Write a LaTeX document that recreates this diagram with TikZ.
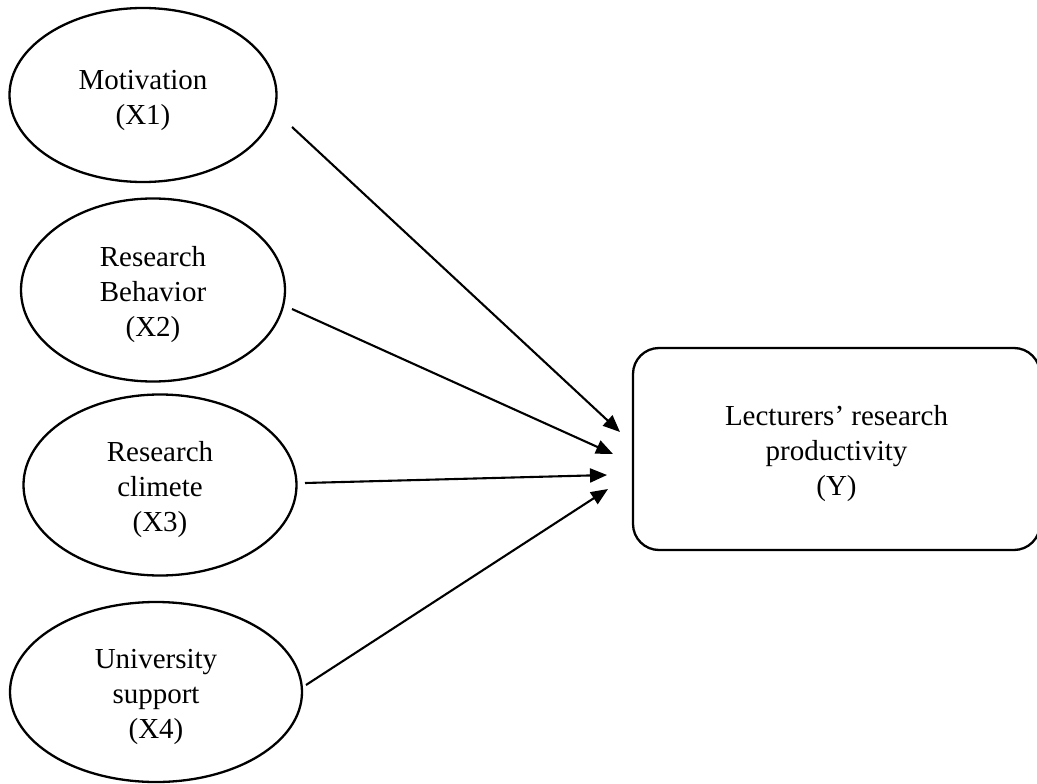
\documentclass[tikz,border=0pt]{standalone}
\usepackage{fontspec}
\setmainfont{Liberation Serif}
\usetikzlibrary{shapes.geometric,arrows.meta}
\begin{document}
\begin{tikzpicture}[x=1pt,y=-1pt,
  var/.style={draw,line width=2.3pt,ellipse,inner sep=0pt},
  target/.style={draw,line width=2.3pt,rounded corners=26pt,inner sep=0pt},
  txt/.style={align=center,inner sep=0pt,yshift=-5pt,
    font=\fontsize{29}{35}\selectfont},
  link/.style={line width=2.1pt,-{Triangle[length=17pt,width=14pt]}}]
\useasboundingbox (0,0) rectangle (1037,784);
\begin{scope}
\clip (0,0) rectangle (1037,784);
\node[var,minimum width=267pt,minimum height=174pt] (x1) at (143,95) {};
\node[var,minimum width=264pt,minimum height=183pt] (x2) at (153,290) {};
\node[var,minimum width=273pt,minimum height=181pt] (x3) at (160,485) {};
\node[var,minimum width=292pt,minimum height=180pt] (x4) at (156,692) {};
\node[target,minimum width=407pt,minimum height=202pt] (y) at (836.5,449) {};
\end{scope}
\node[txt] (x1t) at (x1) {Motivation\\(X1)};
\node[txt] (x2t) at (x2) {Research\\Behavior\\(X2)};
\node[txt] (x3t) at (x3) {Research\\climete\\(X3)};
\node[txt] (x4t) at (x4) {University\\support\\(X4)};
\node[txt] (yt) at (y) {Lecturers’ research\\productivity\\(Y)};
\coordinate (s1) at (292,127);
\coordinate (e1) at (620,432);
\coordinate (s2) at (292,309);
\coordinate (e2) at (613,454);
\coordinate (s3) at (305,483);
\coordinate (e3) at (607,475);
\coordinate (s4) at (306,685);
\coordinate (e4) at (608,489);
\draw[link] (s1) -- (e1);
\draw[link] (s2) -- (e2);
\draw[link] (s3) -- (e3);
\draw[link] (s4) -- (e4);
\end{tikzpicture}
\end{document}
